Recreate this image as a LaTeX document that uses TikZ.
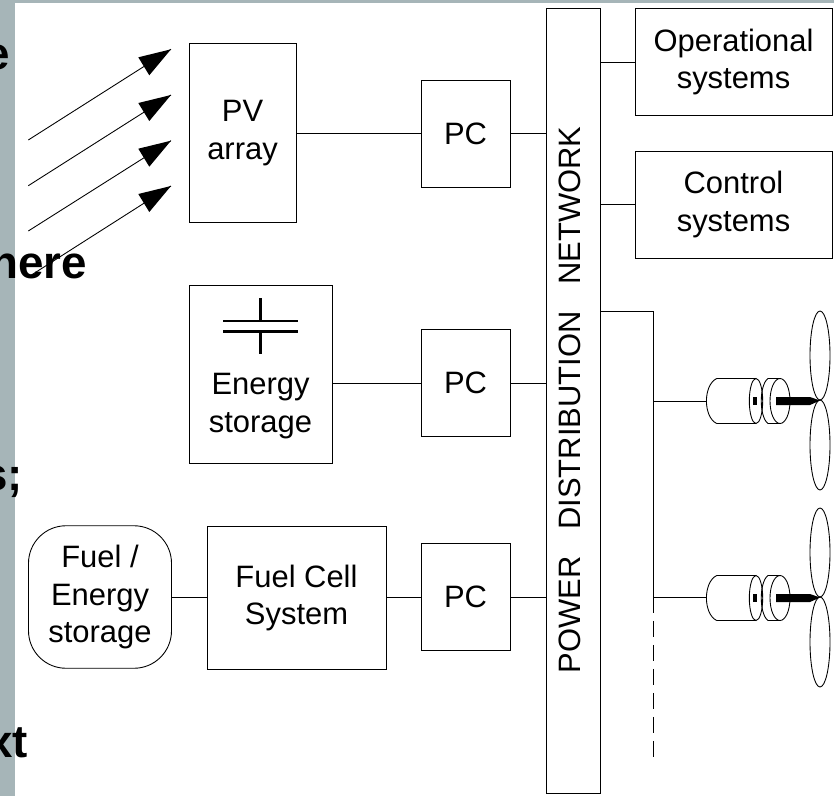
\documentclass[tikz,border=0pt]{standalone}
\usepackage{fontspec}
\setmainfont{Liberation Sans}
\newcommand{\labelfont}{\fontsize{17.6}{21.6}\selectfont}
\newcommand{\slidefont}{\fontsize{26}{30}\selectfont\bfseries}
\definecolor{slidegray}{RGB}{166,181,184}
\begin{document}
\begin{tikzpicture}[scale=0.2]
              \tikzstyle{every node}+=[inner sep=0pt]
              \tikzstyle{unitbox}=[draw=black, line width=0.5pt, font=\labelfont, align=center]
              \tikzstyle{wire}=[black, line width=0.5pt]
              \useasboundingbox (0,0) rectangle (83.4,-79.6);
              \fill [white] (0,0) rectangle (83.4,-79.6);
              \fill [slidegray] (0,0) rectangle (83.4,-0.3);
              \fill [slidegray] (0,0) rectangle (1.5,-79.6);
              \draw (1.0,-6.9) node [anchor=base east, font=\slidefont] (slidee) {e};
              \draw (8.75,-27.8) node [anchor=base east, font=\slidefont] (slidehere) {here};
              \draw (2.3,-49) node [anchor=base east, font=\slidefont] (slides) {s;};
              \draw (2.8,-75.7) node [anchor=base east, font=\slidefont] (slidext) {xt};
              % sun rays
              \coordinate (raya) at (2.83,-14);
              \coordinate (rayatip) at (17.1,-4.93);
              \coordinate (rayb) at (2.83,-18.57);
              \coordinate (raybtip) at (17.1,-9.5);
              \coordinate (rayc) at (2.83,-23.1);
              \coordinate (raycip) at (17.1,-14.07);
              \coordinate (rayd) at (2.83,-27.7);
              \coordinate (raydtip) at (17.1,-18.6);
              \draw [wire] (raya) -- (rayatip);
              \fill [black] (rayatip) -- ++(-3.27,-0.8) -- ++(1.1,-1.8) -- cycle;
              \draw [wire] (rayb) -- (raybtip);
              \fill [black] (raybtip) -- ++(-3.27,-0.8) -- ++(1.1,-1.8) -- cycle;
              \draw [wire] (rayc) -- (raycip);
              \fill [black] (raycip) -- ++(-3.27,-0.8) -- ++(1.1,-1.8) -- cycle;
              \draw [wire] (rayd) -- (raydtip);
              \fill [black] (raydtip) -- ++(-3.27,-0.8) -- ++(1.1,-1.8) -- cycle;
              % boxes
              \draw (24.25,-13.3) node [unitbox, minimum width=2.14cm, minimum height=3.57cm] (pvarray) {PV\\array};
              \draw (46.55,-13.35) node [unitbox, minimum width=1.78cm, minimum height=2.14cm] (pctop) {PC};
              \draw (57.3,-40.1) node [unitbox, minimum width=1.08cm, minimum height=15.7cm] (network) {};
              \draw (57,-40) node [rotate=90, font=\labelfont] (networklabel) {POWER\ \ \hspace{5.4pt}DISTRIBUTION\ \ \hspace{5.4pt}NETWORK};
              \draw (73.35,-6.2) node [unitbox, minimum width=3.94cm, minimum height=2.14cm] (opsys) {Operational\\systems};
              \draw (73.35,-20.45) node [unitbox, minimum width=3.94cm, minimum height=2.14cm] (ctrlsys) {Control\\systems};
              \draw (26.05,-37.4) node [unitbox, minimum width=2.86cm, minimum height=3.56cm] (energy) {};
              \draw (26.05,-40.6) node [font=\labelfont, align=center] (energylabel) {Energy\\storage};
              \draw (46.55,-38.3) node [unitbox, minimum width=1.78cm, minimum height=2.14cm] (pcmid) {PC};
              \draw (10,-59.7) node [unitbox, minimum width=2.86cm, minimum height=2.85cm, rounded corners=0.75cm] (fuelstore) {Fuel /\\Energy\\storage};
              \draw (29.65,-59.8) node [unitbox, minimum width=3.58cm, minimum height=2.86cm] (fuelcell) {Fuel Cell\\System};
              \draw (46.55,-59.7) node [unitbox, minimum width=1.78cm, minimum height=2.14cm] (pcbot) {PC};
              % capacitor symbol
              \draw [black, line width=1.2pt] (22.3,-32.1) -- (29.8,-32.1);
              \draw [black, line width=1.2pt] (22.3,-33.15) -- (29.8,-33.15);
              \draw [black, line width=1.2pt] (26.05,-29.8) -- (26.05,-32.1);
              \draw [black, line width=1.2pt] (26.05,-33.15) -- (26.05,-35.4);
              % connectors
              \draw [wire] (pvarray.east |- pctop.west) -- (pctop.west);
              \draw [wire] (pctop.east) -- (pctop.east -| network.west);
              \draw [wire] (energy.east |- pcmid.west) -- (pcmid.west);
              \draw [wire] (pcmid.east) -- (pcmid.east -| network.west);
              \draw [wire] (fuelstore.east) -- (fuelstore.east -| fuelcell.west);
              \draw [wire] (fuelcell.east |- pcbot.west) -- (pcbot.west);
              \draw [wire] (pcbot.east) -- (pcbot.east -| network.west);
              \draw [wire] (network.east |- opsys.west) -- (opsys.west);
              \draw [wire] (network.east |- ctrlsys.west) -- (ctrlsys.west);
              % feeder to the propulsors
              \coordinate (feedtop) at (65.3,-31.1);
              \coordinate (feedjoin) at (65.3,-59.7);
              \coordinate (feedend) at (65.3,-75.8);
              \coordinate (motora) at (70.64,-40.1);
              \coordinate (motorb) at (70.64,-59.7);
              \draw [wire] (network.east |- feedtop) -- (feedtop) -- (feedjoin);
              \draw [wire, dash pattern=on 9.1pt off 4.55pt] (feedjoin) -- (feedend);
              \draw [wire] (feedtop |- motora) -- (motora);
              \draw [wire] (feedjoin) -- (motorb);
              % upper propulsor
              \draw [wire] (75.6,-37.85) -- (71.67,-37.85) .. controls (70.3,-38.5) and (70.3,-41.7) .. (71.67,-42.35) -- (75.6,-42.35);
              \draw [wire] (75.6,-40.1) ellipse (0.67 and 2.25);
              \draw [wire] (78,-37.85) -- (76.8,-37.85) .. controls (75.9,-38.5) and (75.9,-41.7) .. (76.8,-42.35) -- (78,-42.35);
              \draw [wire] (78,-40.1) ellipse (1 and 2.25);
              \fill [black] (75.3,-39.7) rectangle (75.7,-40.5);
              \fill [black] (77.6,-39.7) -- (81,-39.7) -- (82,-40.05) -- (81,-40.5) -- (77.6,-40.5) -- cycle;
              \draw [wire] (82,-35.55) ellipse (1 and 4.45);
              \draw [wire] (82,-44.5) ellipse (1 and 4.5);
              % lower propulsor
              \draw [wire] (75.6,-57.55) -- (71.67,-57.55) .. controls (70.3,-58.2) and (70.3,-61.4) .. (71.67,-62.05) -- (75.6,-62.05);
              \draw [wire] (75.6,-59.8) ellipse (0.67 and 2.25);
              \draw [wire] (78,-57.55) -- (76.8,-57.55) .. controls (75.9,-58.2) and (75.9,-61.4) .. (76.8,-62.05) -- (78,-62.05);
              \draw [wire] (78,-59.8) ellipse (1 and 2.25);
              \fill [black] (75.3,-59.4) rectangle (75.7,-60.2);
              \fill [black] (77.6,-59.4) -- (81,-59.4) -- (82,-59.75) -- (81,-60.2) -- (77.6,-60.2) -- cycle;
              \draw [wire] (82,-55.25) ellipse (1 and 4.45);
              \draw [wire] (82,-64.2) ellipse (1 and 4.5);
            \end{tikzpicture}
\end{document}
